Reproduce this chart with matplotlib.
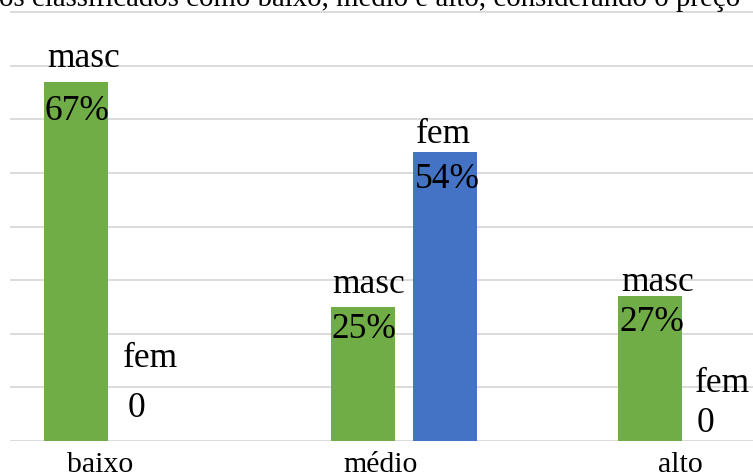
import matplotlib
matplotlib.use("Agg")
import matplotlib.pyplot as plt
import numpy as np
from matplotlib.transforms import ScaledTranslation

# ---- data ----
categories = ["baixo", "médio", "alto"]
series_names = ["masc", "fem"]
masc_values = [67, 25, 27]
fem_values = [0, 54, 0]
value_labels_masc = ["67%", "25%", "27%"]
value_labels_fem = ["0", "54%", "0"]
caption = "os classificados como baixo, médio e alto, considerando o preço"

# ---- style ----
GREEN = "#70AD47"
BLUE = "#4472C4"
GRID = "#D9D9D9"
SERIF = ["Liberation Serif", "DejaVu Serif"]

W, H, DPI = 753, 477, 100
fig = plt.figure(figsize=(W / DPI, H / DPI), dpi=DPI)

# axes geometry (pixels)
px_per_unit = 287.0
group_center0 = 117.1
ax_left_px = 10
ax_bottom_px = 35
ymax = 81
px_per_y = 428.8 / 80
ax_height_px = ymax * px_per_y
x_lo = (ax_left_px - group_center0) / px_per_unit
x_hi = (W - group_center0) / px_per_unit
ax = fig.add_axes([ax_left_px / W, ax_bottom_px / H, (W - ax_left_px) / W, ax_height_px / H])
ax.set_xlim(x_lo, x_hi)
ax.set_ylim(0, ymax)

for s in ax.spines.values():
    s.set_visible(False)

ax.set_yticks(np.arange(0, 90, 10))
ax.set_yticklabels([])
ax.yaxis.grid(True, color=GRID, linewidth=1.3)
ax.set_axisbelow(True)
ax.tick_params(axis="y", length=0)

x = np.arange(len(categories))
bw = 63.7 / px_per_unit
off = 40.8 / px_per_unit
bars_m = ax.bar(x - off, masc_values, bw, color=GREEN, zorder=2)
bars_f = ax.bar(x + off, fem_values, bw, color=BLUE, zorder=2)

# label layout offsets in pixels: (name_dx, name_dy, value_dx, value_dy), dy measured up from bar top
layout_m = [(2.5, 16, 0, -37), (1, 15, 0, -30), (3, 6, 1.5, -34)]
layout_f = [(-3, 75, 2, 25), (3, 10, 1.5, -35), (-5, 50, -3, 10)]

FS = 25.5


def put_labels(bars, lay, name, vlabels):
    for b, (ndx, ndy, vdx, vdy), vl in zip(bars, lay, vlabels):
        xl = b.get_x()
        top = b.get_height()
        ax.annotate(name, xy=(xl, top), xytext=(ndx, ndy), textcoords="offset pixels",
                    ha="left", va="baseline", fontsize=FS, family=SERIF, zorder=3,
                    annotation_clip=False)
        ax.annotate(vl, xy=(xl, top), xytext=(vdx, vdy), textcoords="offset pixels",
                    ha="left", va="baseline", fontsize=FS, family=SERIF, zorder=3,
                    annotation_clip=False)


put_labels(bars_m, layout_m, series_names[0], value_labels_masc)
put_labels(bars_f, layout_f, series_names[1], value_labels_fem)

# category tick labels
ax.set_xticks(x)
ax.set_xticklabels(categories, fontsize=21.5, family=SERIF, va="baseline")
ax.tick_params(axis="x", length=0, pad=21.6)
tick_dx = [-17, -24, -11]
for lab, dx in zip(ax.get_xticklabels(), tick_dx):
    lab.set_transform(lab.get_transform() + ScaledTranslation(dx / DPI, 0, fig.dpi_scale_trans))

# caption text at top (cut off by the frame edge, as in the reference)
fig.text(-1 / W, 1 - 6 / H, caption, ha="left", va="baseline", fontsize=20.8, family=SERIF)

fig.savefig("out.png", dpi=DPI)
